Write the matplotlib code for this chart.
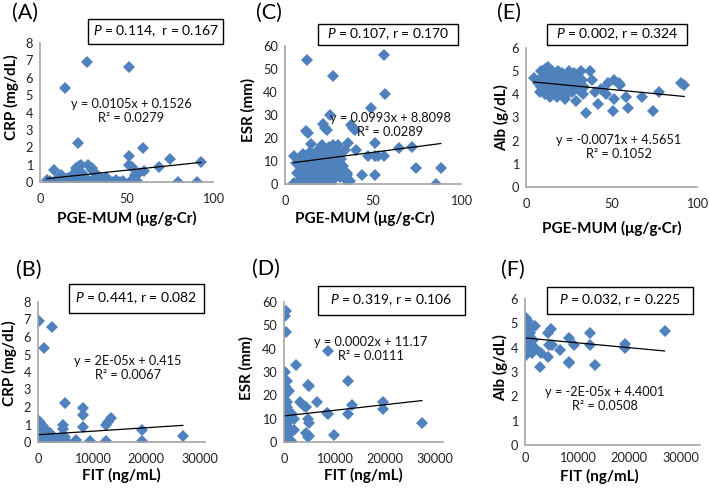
import numpy as np
import matplotlib
matplotlib.use('Agg')
import matplotlib.pyplot as plt
from matplotlib.patches import Rectangle

plt.rcParams['font.family'] = ['Lato', 'DejaVu Sans']
plt.rcParams['mathtext.fontset'] = 'custom'
plt.rcParams['mathtext.it'] = 'Lato:italic'
plt.rcParams['mathtext.rm'] = 'Lato'

# ---- data ----
# (A) CRP vs PGE-MUM
pge_a = [27, 51.5, 14.5, 22, 59.5, 51.5, 75, 93, 68.5, 8, 22.5, 23.5, 28, 30, 51.5, 53, 55, 57.5, 60, 79.5, 91,
         4, 6, 9, 10, 11, 12, 13, 14, 15, 16, 17, 18, 19, 20, 21, 22, 23, 24, 25, 26, 27, 28, 29, 30,
         31, 32, 33, 35, 37, 38, 40, 42, 44, 46, 48, 53, 54, 56,
         12, 18, 20, 24, 26, 30, 32, 34, 38, 21, 13, 16, 36]
crp_a = [6.9, 6.6, 5.4, 2.25, 1.93, 1.5, 1.35, 1.15, 0.85, 0.68, 0.9, 1.0, 0.95, 0.7, 1.0, 0.85, 0.4, 0.5, 0.65, 0.0, 0.0,
         0.1, 0.05, 0.1, 0.0, 0.15, 0.0, 0.1, 0.05, 0.2, 0.0, 0.1, 0.0, 0.05, 0.15, 0.0, 0.1, 0.05, 0.0, 0.1, 0.0,
         0.05, 0.1, 0.0, 0.05, 0.0, 0.1, 0.0, 0.05, 0.1, 0.0, 0.05, 0.0, 0.1, 0.0, 0.05, 0.1, 0.2, 0.05,
         0.4, 0.3, 0.6, 0.5, 0.2, 0.8, 0.5, 0.3, 0.3, 0.8, 0.35, 0.25, 0.15]

# (C) ESR vs PGE-MUM
pge_c = [12.5, 56.5, 27, 57, 49, 25.5, 12, 21.5, 22.5, 24, 37.5, 39.5, 38.5, 15, 27, 36, 51, 65, 72, 5,
         40.5, 47, 51, 53, 56, 74.5, 88.5, 86, 44, 51, 35, 37, 13, 9,
         8, 9, 10, 11, 12, 12, 13, 14, 14, 15, 16, 16, 17, 17, 18, 18, 19, 19, 20, 20, 21, 21, 22, 22,
         23, 23, 24, 24, 25, 25, 26, 26, 27, 28, 28, 29, 30, 30, 31, 32, 33, 34, 34, 35, 10, 11, 13, 15,
         17, 19, 21, 23, 26, 29, 31, 33, 12, 14, 16, 18, 20, 22, 24, 27, 29, 31, 8, 6, 7, 5, 16.5]
esr_c = [54, 56, 47, 39, 33, 30, 23, 26, 24.5, 23.5, 25.5, 23.5, 24.5, 17.5, 17, 18, 18, 15.5, 16, 12,
         15, 12, 12, 12, 12, 7, 7, 0, 4, 4, 4, 1.5, 22, 7,
         5, 2, 10, 6, 3, 12, 8, 1, 14, 5, 10, 2, 7, 13, 0, 4, 9, 15, 6, 2, 11, 17, 4, 8,
         13, 1, 6, 10, 3, 16, 8, 12, 5, 2, 14, 9, 6, 17, 3, 11, 8, 15, 2, 5, 13, 1, 4, 11,
         0, 3, 6, 9, 1, 4, 13, 5, 7, 9, 6, 11, 13, 15, 1, 10, 12, 7, 11, 9, 5, 0.5, 0]

# (E) Alb vs PGE-MUM
pge_e = [90.5, 92.5, 78, 74.5, 68, 59.5, 58.5, 51, 51.5, 42, 35, 51.5, 54.5, 48, 44, 37.5, 38.5, 40.5, 32,
         33.5, 29, 23, 47, 55, 45,
         4.5, 7, 8, 9, 9, 10, 11, 11, 12, 12, 13, 13, 14, 14, 15, 15, 16, 16, 17, 17, 18, 18, 19, 19,
         20, 20, 21, 21, 22, 22, 23, 24, 24, 25, 25, 26, 27, 27, 28, 29, 30, 31, 31, 33, 34,
         10, 12, 14, 16, 18, 20, 23, 26, 28]
alb_e = [4.5, 4.4, 4.1, 3.3, 3.9, 3.4, 3.9, 3.3, 3.8, 3.6, 3.2, 4.6, 4.5, 4.5, 4.25, 5.0, 4.6, 4.1, 5.0,
         4.0, 3.7, 3.8, 4.0, 4.4, 4.2,
         4.7, 4.5, 4.1, 5.0, 4.3, 4.8, 4.0, 5.1, 4.6, 4.2, 5.2, 4.4, 4.8, 3.9, 4.5, 5.0, 4.1, 4.7, 4.3, 4.9,
         3.9, 4.6, 4.4, 5.0, 4.1, 4.7, 4.5, 4.9, 4.2, 4.6, 4.8, 4.0, 4.4, 4.7, 5.0, 4.3, 4.6, 4.1, 4.9,
         4.4, 4.7, 4.2, 4.5, 4.6, 4.3,
         4.6, 4.9, 4.2, 4.4, 4.8, 4.3, 4.5, 4.8, 4.2]

# (B) CRP vs FIT
fit_b = [180, 2600, 1200, 5000, 8400, 8400, 13500, 13000, 12500, 8300, 4600, 4700, 19200, 19200, 26800,
         9600, 7000, 12500, 5000, 4600, 3000, 2000, 5200,
         100, 200, 300, 150, 400, 100, 250, 50, 350, 150, 500, 700, 800, 900, 1000, 1100, 1300, 1500,
         1600, 1800, 2200, 2400, 2700, 600, 50, 250, 1200, 3500, 4200, 100, 300, 450, 750, 1700, 600]
crp_b = [6.9, 6.6, 5.4, 2.25, 1.95, 1.55, 1.35, 1.15, 1.0, 0.85, 0.95, 0.75, 0.7, 0.05, 0.35,
         0.05, 0.1, 0.05, 0.3, 0.1, 0.05, 0.2, 0.05,
         1.2, 1.0, 0.8, 0.6, 0.5, 0.4, 0.3, 0.2, 0.15, 0.1, 0.05, 0.3, 0.6, 0.9, 0.2, 0.05, 0.4, 0.7,
         0.1, 0.3, 0.5, 0.05, 0.25, 0.0, 0.0, 0.05, 0.6, 0.15, 0.3, 0.75, 0.25, 1.1, 0.15, 0.5, 0.85]

# (D) ESR vs FIT
fit_d = [460, 270, 460, 8800, 2400, 270, 12800, 660, 460, 1050, 5000, 4800, 3100, 4400, 4000, 6600, 13500,
         19600, 19600, 12800, 8800, 8500, 4800, 2000, 5000, 27400, 2000, 4400, 4900, 10000, 4700, 1300,
         1000, 1500,
         100, 200, 300, 100, 400, 200, 300, 100, 500, 200, 300, 100, 400, 200, 600, 700, 500, 150, 300,
         100, 800, 900, 1100, 600, 250, 350, 50, 150, 450, 700]
esr_d = [56, 54, 47, 39, 33, 30, 26, 26, 23, 22, 24, 24.5, 17, 15, 15.5, 17, 16,
         17, 14, 12, 12, 12.5, 10, 10, 8, 8, 5, 4, 2.5, 3, 2, 0.5,
         13, 12,
         18, 16, 14, 12, 11, 9, 7, 6, 5, 4, 3, 2, 1, 0, 8, 12, 15, 20, 10,
         8, 3, 6, 1, 17, 24, 13, 22, 4.5, 2.5, 0.5]

# (F) Alb vs FIT
fit_f = [26800, 19200, 19200, 12500, 12500, 13500, 8400, 8400, 9500, 6800, 5000, 4500, 4700, 4500, 2900,
         2000, 2000, 5200, 8500, 1600, 3000,
         100, 200, 300, 100, 400, 200, 300, 100, 500, 200, 300, 100, 400, 200, 600, 700, 800, 900, 1000,
         1100, 1200, 1300, 600, 150, 350, 50, 500, 750]
alb_f = [4.7, 4.15, 4.0, 4.6, 4.1, 3.3, 4.4, 3.35, 4.1, 3.9, 4.75, 4.6, 4.1, 3.6, 3.2,
         4.0, 4.9, 4.1, 3.4, 4.3, 3.8,
         5.2, 5.0, 4.9, 4.7, 4.6, 4.5, 4.4, 4.3, 4.2, 4.1, 4.0, 3.9, 3.8, 3.7, 4.8, 4.5, 4.1, 3.9, 4.6,
         4.3, 4.0, 3.8, 5.1, 4.85, 4.25, 4.55, 3.95, 4.35]

# trendline slope / intercept (as drawn) and labels
slopes = [0.0105, 0.0993, -0.0071, 2e-05, 0.00024, -2e-05]
intercepts = [0.1526, 8.8098, 4.5651, 0.415, 11.17, 4.4001]
eq_texts = ['y = 0.0105x + 0.1526\nR² = 0.0279', 'y = 0.0993x + 8.8098\nR² = 0.0289',
            'y = -0.0071x + 4.5651\nR² = 0.1052', 'y = 2E-05x + 0.415\nR² = 0.0067',
            'y = 0.0002x + 11.17\nR² = 0.0111', 'y = -2E-05x + 4.4001\nR² = 0.0508']
stat_texts = [r'$P$ = 0.114,  r = 0.167', r'$P$ = 0.107, r = 0.170', r'$P$ = 0.002, r = 0.324',
              r'$P$ = 0.441, r = 0.082', r'$P$ = 0.319, r = 0.106', r'$P$ = 0.032, r = 0.225']
letters = ['(A)', '(C)', '(E)', '(B)', '(D)', '(F)']
xlabels = ['PGE-MUM (μg/g·Cr)'] * 3 + ['FIT (ng/mL)'] * 3
ylabels = ['CRP (mg/dL)', 'ESR (mm)', 'Alb (g/dL)', 'CRP (mg/dL)', 'ESR (mm)', 'Alb (g/dL)']
xs = [pge_a, pge_c, pge_e, fit_b, fit_d, fit_f]
ys = [crp_a, esr_c, alb_e, crp_b, esr_d, alb_f]
ymax = [8, 60, 6, 8, 60, 6]
ystep = [1, 10, 1, 1, 10, 1]
xtop = [100, 100, 100, 30000, 30000, 30000]
xstep = [50, 50, 50, 10000, 10000, 10000]
# axis line runs a little past the last tick on the FIT panels
xlim_max = [100, 100, 100, 30900, 31600, 33600]

# ---- layout (pixels in a 709x491 canvas) ----
W, H = 709, 491
ax_px = [(40, 43, 213, 182), (285, 46, 461, 184), (526, 48, 697, 187),
         (38, 302, 205, 442), (284, 302, 443, 442), (525, 299, 700, 445)]
box_px = [(88, 19, 223, 44), (318, 24, 458, 45), (547, 24, 687, 45),
          (69, 284, 204, 313), (318, 286, 465, 315), (547, 287, 693, 314)]
eq_px = [(131, 111), (390, 125), (619, 147), (128, 368), (371, 349), (605, 399)]
letter_px = [(12, 13), (256, 13), (497, 13), (16, 270), (252, 269), (501, 270)]
xlab_px = [(127, 218), (365, 218), (612, 228), (121, 475), (363, 475), (599, 476)]
ylab_px = [(11, 97), (248, 110), (502, 118), (9, 363), (246, 368), (501, 368)]
xpad = [8, 8, 8, 8, 8, 5]

blue = '#4F81BD'
axis_grey = '#A6A6A6'

fig = plt.figure(figsize=(W / 100, H / 100), dpi=100)

def fx(p):
    return p / W

def fy(p):
    return 1 - p / H

for i in range(6):
    l, t, r, b = ax_px[i]
    ax = fig.add_axes([fx(l), fy(b), (r - l) / W, (b - t) / H])
    x = np.array(xs[i], dtype=float)
    y = np.array(ys[i], dtype=float)
    ax.plot(x, y, linestyle='none', marker='D', markersize=6.0, color=blue, markeredgewidth=0)
    xl = np.array([x.min(), x.max()])
    ax.plot(xl, slopes[i] * xl + intercepts[i], color='black', lw=0.9)
    ax.set_xlim(0, xlim_max[i])
    ax.set_ylim(0, ymax[i])
    ax.set_xticks(np.arange(0, xtop[i] + 1, xstep[i]))
    ax.set_yticks(np.arange(0, ymax[i] + 0.01, ystep[i]))
    ax.tick_params(length=0, labelsize=9.2, colors='#222222')
    ax.tick_params(axis='x', pad=xpad[i])
    ax.tick_params(axis='y', pad=5)
    for s in ['top', 'right']:
        ax.spines[s].set_visible(False)
    for s in ['left', 'bottom']:
        ax.spines[s].set_color(axis_grey)
        ax.spines[s].set_linewidth(1.2)
    for lab in ax.get_xticklabels() + ax.get_yticklabels():
        lab.set_clip_on(False)
    ax.patch.set_alpha(0)

    ex, ey = eq_px[i]
    fig.text(fx(ex), fy(ey), eq_texts[i], ha='center', va='center', fontsize=9.2,
             color='#111111', linespacing=1.25)

    bl, bt, br, bb = box_px[i]
    fig.patches.append(Rectangle((fx(bl), fy(bb)), (br - bl) / W, (bb - bt) / H,
                                 transform=fig.transFigure, fill=True, facecolor='white',
                                 edgecolor='black', lw=1.0))
    fig.text(fx((bl + br) / 2), fy((bt + bb) / 2), stat_texts[i], ha='center', va='center',
             fontsize=10)

    lx, ly = letter_px[i]
    fig.text(fx(lx), fy(ly), letters[i], ha='left', va='center', fontsize=15.5)
    xx, xy = xlab_px[i]
    fig.text(fx(xx), fy(xy), xlabels[i], ha='center', va='center', fontsize=11,
             fontweight='bold')
    yx, yy = ylab_px[i]
    fig.text(fx(yx), fy(yy), ylabels[i], ha='center', va='center', fontsize=11,
             fontweight='bold', rotation=90)

fig.savefig('out.png', dpi=100)
